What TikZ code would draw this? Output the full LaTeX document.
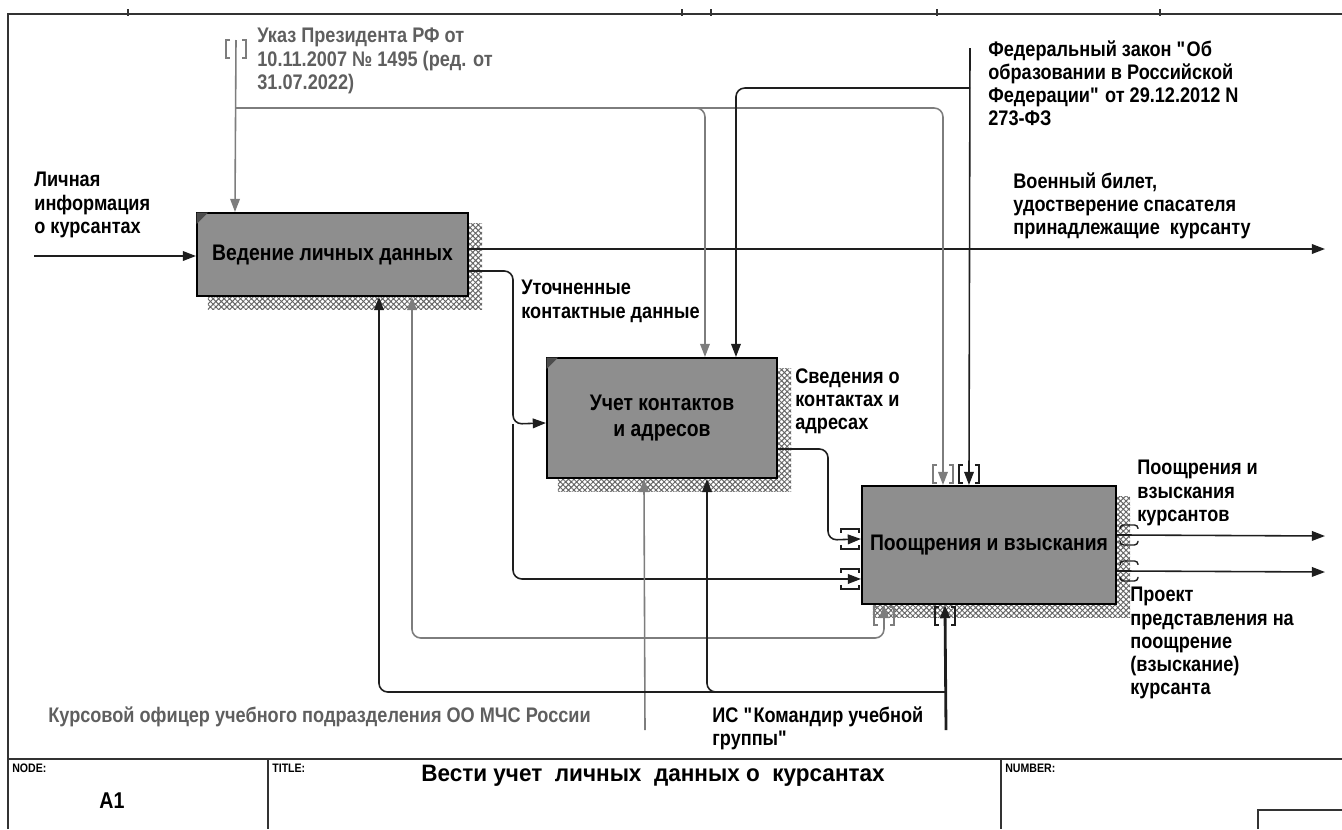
\documentclass[tikz,border=0pt]{standalone}
\usepackage{fontspec}
\setmainfont{Liberation Sans}[FakeStretch=0.86]
\newfontfamily\titlefont{Liberation Sans}[FakeStretch=0.95]
\definecolor{boxgray}{RGB}{142,142,142}
\definecolor{linegray}{RGB}{125,125,125}
\definecolor{textgray}{RGB}{95,95,95}
\definecolor{linedark}{RGB}{30,30,30}
\usetikzlibrary{calc, arrows.meta, patterns.meta, backgrounds}

% tunnel brackets round an arrow end: #2 point, #3 offset of the bracket centre
\newcommand{\tunv}[3][linedark]{%
  \draw[line width=0.8pt, #1, shift={(#2)}, shift={(#3)}]
    (-6,-9) -- (-10,-9) -- (-10,9) -- (-6,9)
    (6,-9) -- (10,-9) -- (10,9) -- (6,9);}
\newcommand{\tunh}[3][linedark]{%
  \draw[line width=0.8pt, #1, shift={(#2)}, shift={(#3)}]
    (-9,-6) -- (-9,-10) -- (9,-10) -- (9,-6)
    (-9,6) -- (-9,10) -- (9,10) -- (9,6);}

\begin{document}
\begin{tikzpicture}[x=0.02cm, y=-0.02cm,
  every node/.style={font=\bfseries\fontsize{12}{13.2}\selectfont},
  func/.style={draw=black, line width=1.2pt, fill=boxgray, align=center, inner sep=2pt,
    font=\bfseries\fontsize{12.8}{14.5}\selectfont},
  shade/.style={pattern={Hatch[angle=45, distance=2.2pt, line width=0.55pt]},
    pattern color=black!60},
  ann/.style={anchor=north west, align=left, inner sep=0pt},
  arr/.style={draw=linedark, line width=0.9pt, rounded corners=5pt,
    -{Triangle[length=7.5pt,width=5.5pt]}},
  garr/.style={arr, draw=linegray},
  frame/.style={draw=black!80, line width=1pt},
  tiny/.style={font=\bfseries\fontsize{7}{8}\selectfont, anchor=north west, inner sep=0pt},
]
\useasboundingbox (0,0) rectangle (1342,829);

% Sheet frame and title block
\draw[frame] (8,829) -- (8,14) -- (1342,14);
\foreach \x in {128,682,711,937,1160}
  \draw[frame] (\x,9) -- (\x,16);
\draw[frame] (8,759) -- (1342,759);
\draw[frame] (268,759) -- (268,829);
\draw[frame] (1001,759) -- (1001,829);
\draw[frame] (1258,829) -- (1258,810) -- (1342,810);
\node[tiny] (nodeLbl) at (12,764) {NODE:};
\node[tiny] (titleLbl) at (272,764) {TITLE:};
\node[tiny] (numLbl) at (1005,764) {NUMBER:};
\node[font=\bfseries\fontsize{13}{15}\selectfont] (nodeNum) at (112,801) {A1};
\node[font=\titlefont\bfseries\fontsize{13.5}{16}\selectfont] (title) at (653,776)
  {Вести учет\ \ личных\ \ данных о\ \ курсантах};

% Function boxes
\node[func, minimum width=5.42cm, minimum height=1.66cm] (lichn) at (332.5,254.5)
  {Ведение личных данных};
\node[func, minimum width=4.6cm, minimum height=2.4cm] (kont) at (662,418)
  {Учет контактов\\и адресов};
\node[func, minimum width=5.08cm, minimum height=2.36cm] (poow) at (989,545)
  {Поощрения и взыскания};

\begin{scope}[on background layer]
\foreach \b in {lichn, kont, poow}
  \fill[shade] ($(\b.north west)+(12,12)$) rectangle ($(\b.south east)+(13,12)$);
\end{scope}
\foreach \b in {lichn, kont}
  \filldraw[black!70, line width=0.5pt] ($(\b.north west)+(1,1)$) -- ++(10,0) -- ++(-10,10) -- cycle;

% Ports on the boxes
\coordinate (lichnC) at ($(lichn.north west)+(39,0)$);
\coordinate (lichnO2) at ($(lichn.north east)+(0,59)$);
\coordinate (lichnM1) at ($(lichn.south west)+(183,0)$);
\coordinate (lichnM2) at ($(lichn.south west)+(216,0)$);
\coordinate (kontI) at ($(kont.north west)+(0,66)$);
\coordinate (kontC1) at ($(kont.north west)+(159,0)$);
\coordinate (kontC2) at ($(kont.north west)+(190,0)$);
\coordinate (kontO) at ($(kont.north east)+(0,92)$);
\coordinate (kontM1) at ($(kont.south west)+(98,0)$);
\coordinate (kontM2) at ($(kont.south west)+(161,0)$);
\coordinate (poowI1) at ($(poow.north west)+(0,54)$);
\coordinate (poowI2) at ($(poow.north west)+(0,94)$);
\coordinate (poowC1) at ($(poow.north west)+(82,0)$);
\coordinate (poowC2) at ($(poow.north west)+(108,0)$);
\coordinate (poowO1) at ($(poow.north east)+(0,50)$);
\coordinate (poowO2) at ($(poow.north east)+(0,86)$);
\coordinate (poowM1) at ($(poow.south west)+(23,0)$);
\coordinate (poowM2) at ($(poow.south west)+(84,0)$);

% Free ends and branch points
\coordinate (srcInfo) at (34,256);
\coordinate (srcUkaz) at (236,40);
\coordinate (jUkaz) at (236,108);
\coordinate (srcZakon) at (970,48);
\coordinate (jZakon) at (970,88);
\coordinate (dstVoen) at (1325,249);
\coordinate (jUtoch) at (513,424);
\coordinate (bendSved) at (828,540);
\coordinate (dstPoow) at (1325,536);
\coordinate (dstProekt) at (1325,572);
\coordinate (srcKurs) at (645,730);
\coordinate (jKurs) at (645,638);
\coordinate (srcIS) at (946,730);
\coordinate (jIS) at (946,692);

% Inputs and outputs
\draw[arr] (srcInfo) -- (srcInfo -| lichn.west);
\draw[arr] (lichn.east |- dstVoen) -- (dstVoen);
\draw[arr] (lichnO2) -| (jUtoch) -- (kontI);
\draw[arr] (jUtoch) |- (poowI2);
\draw[arr] (kontO) -| (bendSved) -- (poowI1);
\draw[arr] (poowO1) -- (dstPoow);
\draw[arr] (poowO2) -- (dstProekt);

% Controls
\draw[garr] (srcUkaz) -- (lichnC);
\draw[garr] (jUkaz) -| (kontC1);
\draw[garr] (jUkaz) -| (poowC1);
\draw[arr] (srcZakon) -- (poowC2);
\draw[arr] (jZakon) -| (kontC2);

% Mechanisms
\draw[garr] (srcKurs) -- (kontM1);
\draw[garr] (jKurs) -| (lichnM2);
\draw[garr] (jKurs) -| (poowM1);
\draw[arr, line width=1.6pt] (srcIS) -- (poowM2);
\draw[arr] (jIS) -| (lichnM1);
\draw[arr] (jIS) -| (kontM2);

% Tunnels
\tunv[linegray]{srcUkaz}{0,9}
\tunv[linegray]{poowC1}{0,-11}
\tunv{poowC2}{0,-11}
\tunh{poowI1}{-11,0}
\tunh{poowI2}{-11,0}
\tunv[linegray]{poowM1}{0,11}
\tunv[linedark, line width=1.3pt]{poowM2}{0,11}
\tunh[linedark, rounded corners=2pt]{poowO1}{12,0}
\tunh[linedark, rounded corners=2pt]{poowO2}{12,0}

% Arrow labels
\node[ann] (lInfo) at (34,172) {Личная\\информация\\о курсантах};
\node[ann, text=textgray] (lUkaz) at (257,28) {Указ Президента РФ от\\10.11.2007 № 1495 (ред. от\\31.07.2022)};
\node[ann] (lZakon) at (988,40) {Федеральный закон \textquotedbl Об\\образовании в Российской\\Федерации\textquotedbl{} от 29.12.2012 N\\273-ФЗ};
\node[ann] (lVoen) at (1013,172) {Военный билет,\\удостверение спасателя\\принадлежащие\ \ курсанту};
\node[ann] (lUtoch) at (521,280) {Уточненные\\контактные данные};
\node[ann] (lSved) at (795,368) {Сведения о\\контактах и\\адресах};
\node[ann] (lPoow) at (1137,460) {Поощрения и\\взыскания\\курсантов};
\node[ann] (lProekt) at (1130,587) {Проект\\представления на\\поощрение\\(взыскание)\\курсанта};
\node[ann, text=textgray] (lKurs) at (48,706) {Курсовой офицер учебного подразделения ОО МЧС России};
\node[ann] (lIS) at (712,706) {ИС \textquotedbl Командир учебной\\группы\textquotedbl};
\end{tikzpicture}
\end{document}
